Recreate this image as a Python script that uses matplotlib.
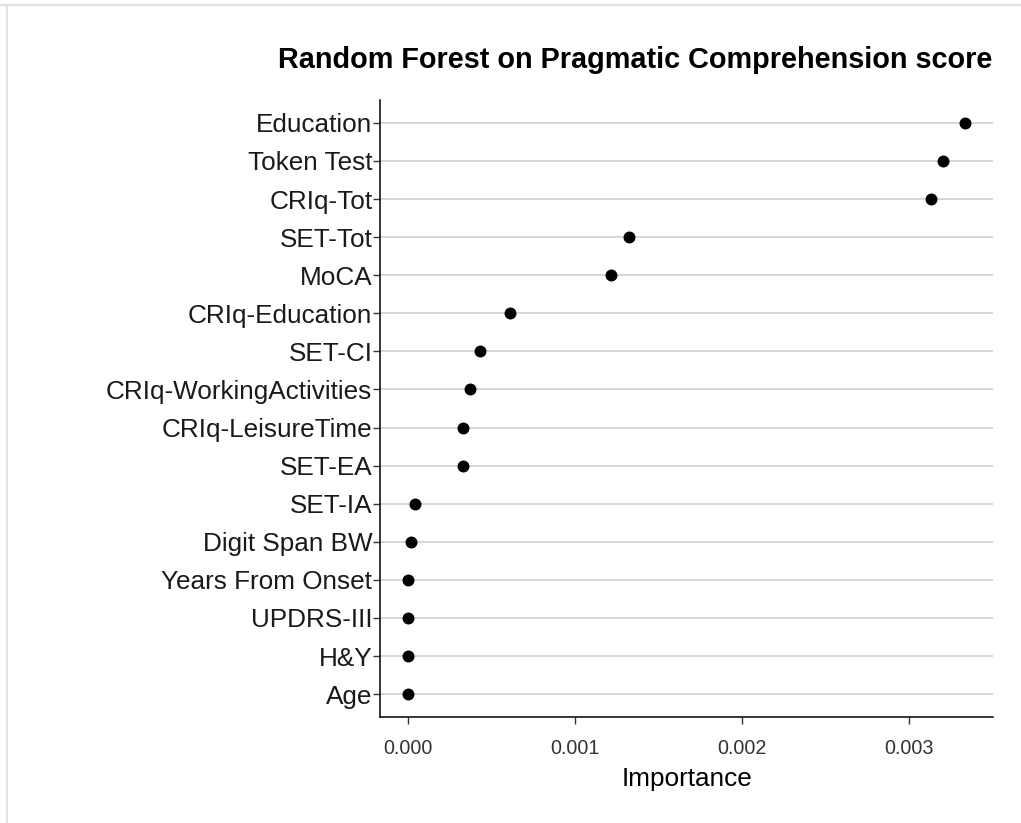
import matplotlib
matplotlib.use("Agg")
import matplotlib.pyplot as plt
from matplotlib.lines import Line2D

plt.rcParams['font.family'] = ['Liberation Sans', 'DejaVu Sans']

# Variable importance from the random forest (top to bottom)
features = [
    "Education", "Token Test", "CRIq-Tot", "SET-Tot", "MoCA",
    "CRIq-Education", "SET-CI", "CRIq-WorkingActivities", "CRIq-LeisureTime",
    "SET-EA", "SET-IA", "Digit Span BW", "Years From Onset", "UPDRS-III",
    "H&Y", "Age",
]
importance = [
    0.003338, 0.003205, 0.003136, 0.001325, 0.001216,
    0.000610, 0.000435, 0.000371, 0.000331,
    0.000331, 0.000043, 0.000017, 0.000002, 0.000002,
    0.000001, 0.000000,
]
x_ticks = [0.000, 0.001, 0.002, 0.003]
x_tick_labels = ["0.000", "0.001", "0.002", "0.003"]
title = "Random Forest on Pragmatic Comprehension score"
x_label = "Importance"

W, H = 1021, 823
fig = plt.figure(figsize=(W / 100, H / 100), dpi=100)
fig.patch.set_facecolor("white")

ax = fig.add_axes([380 / W, (H - 717) / H, (993 - 380) / W, (717 - 100) / H])

n = len(features)
ypos = list(range(n, 0, -1))

ax.set_axisbelow(True)
ax.grid(axis="y", color="#cfcfcf", linewidth=1.2)
ax.grid(axis="x", visible=False)
ax.scatter(importance, ypos, s=74, color="black", zorder=3, linewidths=0)

lo, hi = min(importance), max(importance)
pad = 0.05 * (hi - lo)
ax.set_xlim(lo - pad, hi + pad)
ax.set_ylim(0.4, n + 0.6)

ax.set_yticks(ypos)
ax.set_yticklabels(features, fontsize=18.8, color="#1a1a1a")
ax.set_xticks(x_ticks)
ax.set_xticklabels(x_tick_labels, fontsize=14.2, color="#333333")
ax.tick_params(axis="y", length=5, width=1, color="#333333", pad=0.5)
ax.tick_params(axis="x", length=5, width=1, color="#333333", pad=10.5)
ax.set_xlabel(x_label, fontsize=18.8, color="black", labelpad=7)

for side in ("top", "right"):
    ax.spines[side].set_visible(False)
for side in ("left", "bottom"):
    ax.spines[side].set_color("black")
    ax.spines[side].set_linewidth(1.1)

fig.text(992 / W, (H - 68) / H, title, ha="right", va="baseline",
         fontsize=20.8, fontweight="bold", color="black")

# thin frame around the figure's top and left edges
fig.add_artist(Line2D([0, 1], [(H - 4.5) / H] * 2, transform=fig.transFigure,
                      color="#e2e2e2", linewidth=1.6))
fig.add_artist(Line2D([7 / W] * 2, [0, (H - 4.5) / H], transform=fig.transFigure,
                      color="#e2e2e2", linewidth=1.6))

fig.savefig("out.png", dpi=100, facecolor="white")
